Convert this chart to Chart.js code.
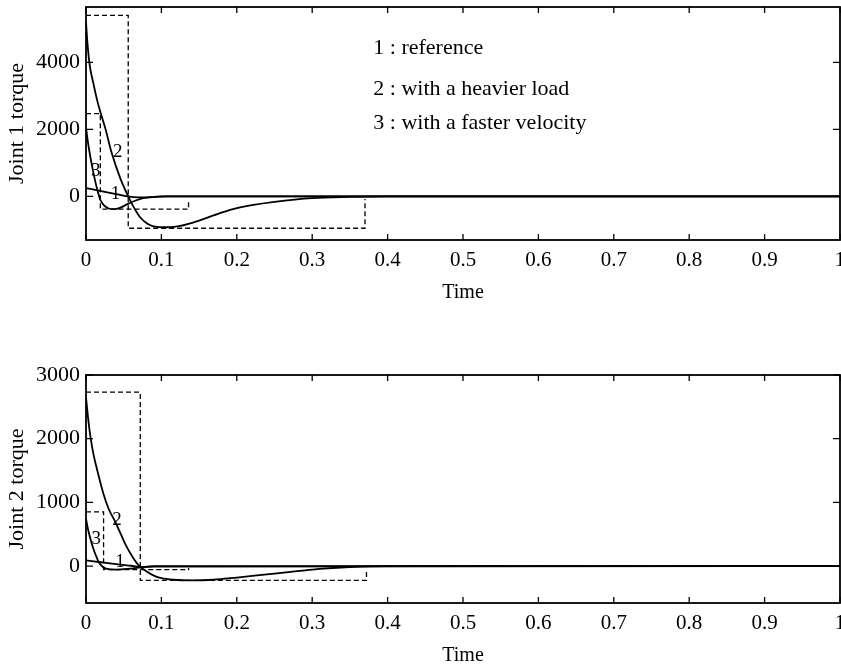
<!DOCTYPE html>
<html>
<head>
<meta charset="utf-8">
<script src="https://cdn.jsdelivr.net/npm/chart.js@4.4.0/dist/chart.umd.min.js"></script>
<style>
  html, body { margin: 0; padding: 0; background: #fff; overflow: hidden; }
  canvas { position: absolute; left: 0; }
  #joint1 { top: 0; }
  #joint2 { top: 365px; }
</style>
</head>
<body>
<canvas id="joint1" width="841" height="310"></canvas>
<canvas id="joint2" width="841" height="310"></canvas>
<script>
// tick labels
var timeTicks = [0, 0.1, 0.2, 0.3, 0.4, 0.5, 0.6, 0.7, 0.8, 0.9, 1];
var j1Ticks = [0, 2000, 4000];
var j2Ticks = [0, 1000, 2000, 3000];

// joint 1 torque
var j1RefT = [0, 0.02, 0.04, 0.055, 0.07, 0.085, 0.1, 1];
var j1RefV = [250, 160, 70, 0, -30, -20, 0, 0];
var j1LoadT = [0, 0.002, 0.005, 0.01, 0.015, 0.02, 0.026, 0.034, 0.045, 0.056, 0.064, 0.072, 0.082, 0.094, 0.11, 0.125, 0.15, 0.17, 0.195, 0.22, 0.25, 0.3, 0.35, 0.4, 1];
var j1LoadV = [5200, 4550, 3900, 3350, 2850, 2450, 2000, 1300, 570, 0, -350, -630, -820, -910, -920, -880, -720, -560, -380, -260, -160, -50, -15, 0, 0];
var j1FastT = [0, 0.003, 0.006, 0.009, 0.012, 0.015, 0.019, 0.024, 0.03, 0.037, 0.045, 0.055, 0.065, 0.076, 0.09, 0.11, 1];
var j1FastV = [2050, 1550, 1150, 800, 480, 200, -100, -270, -360, -380, -340, -230, -130, -50, -15, 0, 0];
// dashed limit boxes
var j1LoadBoxT = [0, 0.056, 0.056, 0.37, 0.37];
var j1LoadBoxV = [5400, 5400, -950, -950, -80];
var j1FastBoxT = [0, 0.019, 0.019, 0.136, 0.136];
var j1FastBoxV = [2470, 2470, -380, -380, -110];

// joint 2 torque
var j2RefT = [0, 0.02, 0.04, 0.06, 0.075, 0.09, 1];
var j2RefV = [90, 60, 30, 5, -15, -10, 0];
var j2LoadT = [0, 0.003, 0.006, 0.01, 0.015, 0.023, 0.03, 0.039, 0.047, 0.054, 0.062, 0.07, 0.08, 0.09, 0.1, 0.116, 0.14, 0.169, 0.2, 0.24, 0.28, 0.315, 0.35, 0.4, 1];
var j2LoadV = [2650, 2300, 2020, 1750, 1500, 1140, 900, 690, 480, 300, 140, 10, -80, -150, -190, -215, -225, -215, -180, -130, -80, -40, -15, 0, 0];
var j2FastT = [0, 0.003, 0.006, 0.009, 0.013, 0.017, 0.022, 0.028, 0.04, 0.055, 0.07, 0.09, 1];
var j2FastV = [740, 560, 420, 300, 170, 60, -10, -45, -55, -45, -25, 0, 0];
var j2LoadBoxT = [0, 0.072, 0.072, 0.372, 0.372];
var j2LoadBoxV = [2730, 2730, -225, -225, -60];
var j2FastBoxT = [0, 0.0233, 0.0233, 0.136, 0.136];
var j2FastBoxV = [850, 850, -57, -57, -30];

var serif = "'Liberation Serif', 'DejaVu Serif', serif";

function pts(t, v) {
    return t.map(function(x, i) { return { x: x, y: v[i] }; });
}

function solid(t, v) {
    return { data: pts(t, v), borderColor: '#000', borderWidth: 1.8, pointRadius: 0, cubicInterpolationMode: 'monotone' };
}

function dashed(t, v) {
    return { data: pts(t, v), borderColor: '#000', borderWidth: 1.3, borderDash: [5, 3], pointRadius: 0, tension: 0 };
}

// frame with inward ticks on all four sides, plus the text labels
var frameTicks = {
    id: 'frameTicks',
    afterDraw: function(chart, args, opts) {
        var ctx = chart.ctx, a = chart.chartArea;
        var xs = chart.scales.x, ys = chart.scales.y;
        ctx.save();
        ctx.strokeStyle = '#000';
        ctx.lineWidth = 1.8;
        ctx.strokeRect(a.left, a.top, a.right - a.left, a.bottom - a.top);
        ctx.lineWidth = 1.3;
        ctx.beginPath();
        xs.ticks.forEach(function(t) {
            var px = xs.getPixelForValue(t.value);
            ctx.moveTo(px, a.bottom); ctx.lineTo(px, a.bottom - 6);
            ctx.moveTo(px, a.top); ctx.lineTo(px, a.top + 6);
        });
        ys.ticks.forEach(function(t) {
            var py = ys.getPixelForValue(t.value);
            ctx.moveTo(a.left, py); ctx.lineTo(a.left + 7, py);
            ctx.moveTo(a.right, py); ctx.lineTo(a.right - 7, py);
        });
        ctx.stroke();
        ctx.fillStyle = '#000';
        ctx.textBaseline = 'middle';
        ctx.font = '19px ' + serif;
        ctx.textAlign = 'center';
        (opts.marks || []).forEach(function(m) {
            ctx.fillText(m.text, xs.getPixelForValue(m.x), ys.getPixelForValue(m.y));
        });
        ctx.font = '22px ' + serif;
        ctx.textAlign = 'left';
        (opts.notes || []).forEach(function(m) {
            ctx.fillText(m.text, xs.getPixelForValue(m.x), ys.getPixelForValue(m.y));
        });
        ctx.restore();
    }
};

function makeChart(id, datasets, yMin, yMax, yTicks, yTitle, xHeight, padTop, titlePad, marks, notes) {
    var ctx = document.getElementById(id).getContext('2d');
    return new Chart(ctx, {
        type: 'line',
        data: { datasets: datasets },
        plugins: [frameTicks],
        options: {
            responsive: false,
            animation: false,
            layout: { padding: { top: padTop, left: 0, right: 1, bottom: 0 } },
            plugins: {
                legend: { display: false },
                tooltip: { enabled: false },
                frameTicks: { marks: marks, notes: notes }
            },
            scales: {
                x: {
                    type: 'linear',
                    min: 0,
                    max: 1,
                    grid: { display: false, drawTicks: false },
                    border: { display: false },
                    afterBuildTicks: function(scale) {
                        scale.ticks = timeTicks.map(function(v) { return { value: v }; });
                    },
                    afterFit: function(scale) {
                        scale.height = xHeight;
                        scale.paddingLeft = 0;
                        scale.paddingRight = 0;
                    },
                    ticks: {
                        padding: 8,
                        color: '#000',
                        maxRotation: 0,
                        font: { family: serif, size: 21 },
                        callback: function(v) { return String(+v.toFixed(1)); }
                    },
                    title: {
                        display: true,
                        text: 'Time',
                        color: '#000',
                        font: { family: serif, size: 20 },
                        padding: { top: 0, bottom: titlePad }
                    }
                },
                y: {
                    min: yMin,
                    max: yMax,
                    grid: { display: false, drawTicks: false },
                    border: { display: false },
                    afterBuildTicks: function(scale) {
                        scale.ticks = yTicks.map(function(v) { return { value: v }; });
                    },
                    afterFit: function(scale) {
                        scale.width = 86;
                        scale.paddingTop = 0;
                        scale.paddingBottom = 0;
                    },
                    ticks: {
                        padding: 6,
                        color: '#000',
                        font: { family: serif, size: 22 },
                        callback: function(v) { return String(v); }
                    },
                    title: {
                        display: true,
                        text: yTitle,
                        color: '#000',
                        font: { family: serif, size: 22 },
                        padding: { top: 4, bottom: 0 }
                    }
                }
            }
        }
    });
}

document.addEventListener('DOMContentLoaded', function() {
    var notes = [
        { text: '1 : reference', x: 0.381, y: 4430 },
        { text: '2 : with a heavier load', x: 0.381, y: 3200 },
        { text: '3 : with a faster velocity', x: 0.381, y: 2180 }
    ];

    makeChart('joint1', [
        solid(j1RefT, j1RefV),
        solid(j1LoadT, j1LoadV),
        solid(j1FastT, j1FastV),
        dashed(j1LoadBoxT, j1LoadBoxV),
        dashed(j1FastBoxT, j1FastBoxV)
    ], -1300, 5650, j1Ticks, 'Joint 1 torque', 70, 7, 5,
    [
        { text: '1', x: 0.039, y: 70 },
        { text: '2', x: 0.042, y: 1310 },
        { text: '3', x: 0.013, y: 770 }
    ], notes);

    makeChart('joint2', [
        solid(j2RefT, j2RefV),
        solid(j2LoadT, j2LoadV),
        solid(j2FastT, j2FastV),
        dashed(j2LoadBoxT, j2LoadBoxV),
        dashed(j2FastBoxT, j2FastBoxV)
    ], -580, 3000, j2Ticks, 'Joint 2 torque', 72, 10, 7,
    [
        { text: '1', x: 0.045, y: 63 },
        { text: '2', x: 0.041, y: 720 },
        { text: '3', x: 0.0137, y: 430 }
    ], []);
});
</script>
</body>
</html>
